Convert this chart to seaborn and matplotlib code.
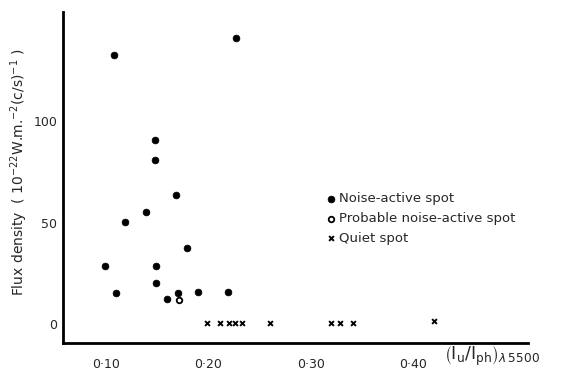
"""
Flux density vs umbra/photosphere intensity ratio
"""

import numpy as np
import pandas as pd
import matplotlib
matplotlib.use("Agg")
import matplotlib.pyplot as plt
import seaborn as sns

# 데이터
active_x = [0.108, 0.227, 0.148, 0.148, 0.168, 0.139, 0.119, 0.179,
            0.099, 0.149, 0.110, 0.149, 0.160, 0.170, 0.190, 0.219]
active_y = [133, 141, 90.7, 80.7, 63.9, 55.3, 50.1, 37.6,
            28.7, 28.7, 15.3, 20.4, 12.4, 15.2, 16.0, 15.7]
probable_x = [0.171]
probable_y = [12.0]
quiet_x = [0.199, 0.211, 0.220, 0.226, 0.233, 0.260, 0.320, 0.329, 0.341, 0.421]
quiet_y = [0.6, 0.6, 0.6, 0.6, 0.6, 0.6, 0.6, 0.6, 0.6, 1.6]

x_ticks = [0.10, 0.20, 0.30, 0.40]
x_tick_labels = ["0·10", "0·20", "0·30", "0·40"]
y_ticks = [0, 50, 100]

labels = ["Noise-active spot", "Probable noise-active spot", "Quiet spot"]

# 스타일 설정
sns.set_style("white")
plt.rcParams["font.family"] = ["DejaVu Sans"]

df = pd.concat([
    pd.DataFrame({"x": active_x, "y": active_y, "kind": labels[0]}),
    pd.DataFrame({"x": probable_x, "y": probable_y, "kind": labels[1]}),
    pd.DataFrame({"x": quiet_x, "y": quiet_y, "kind": labels[2]}),
])

fig = plt.figure(figsize=(5.63, 3.76), dpi=100)
ax = fig.add_axes([63 / 563, 1 - 343 / 376, 465 / 563, 331 / 376])

sns.scatterplot(data=df[df.kind == labels[0]], x="x", y="y", ax=ax,
                marker="o", color="black", s=24, edgecolor="black",
                linewidth=0.5, label=labels[0])
sns.scatterplot(data=df[df.kind == labels[1]], x="x", y="y", ax=ax,
                marker="o", facecolor="white", edgecolor="black",
                s=16, linewidth=1.3, label=labels[1])
sns.scatterplot(data=df[df.kind == labels[2]], x="x", y="y", ax=ax,
                marker="x", color="black", s=12, linewidth=1.4,
                label=labels[2])

ax.set_xlim(0.058, 0.5125)
ax.set_ylim(-9.4, 154)
ax.set_xticks(x_ticks)
ax.set_xticklabels(x_tick_labels)
ax.set_yticks(y_ticks)
ax.tick_params(axis="both", direction="out", length=3, width=1.5,
               labelsize=9, color="black")
ax.tick_params(axis="x", pad=8)
ax.tick_params(axis="y", pad=1)

for side in ["top", "right"]:
    ax.spines[side].set_visible(False)
for side in ["left", "bottom"]:
    ax.spines[side].set_color("black")
    ax.spines[side].set_linewidth(2)

ax.set_xlabel("")
ax.set_ylabel(r"Flux density  ( 10$^{-22}$W.m.$^{-2}$(c/s)$^{-1}$ )",
              fontsize=10)
ax.yaxis.set_label_coords(-0.07, 0.517)
fig.text(444 / 563, 1 - 356 / 376,
         r"$\left(\mathrm{I_u/I_{ph}}\right)_{\lambda\,5500}$",
         fontsize=12.5, ha="left", va="center")

ax.legend(loc="upper left", bbox_to_anchor=(0.548, 0.475), frameon=False,
          handletextpad=0.1, labelspacing=0.5, handlelength=1.0,
          borderpad=0, fontsize=9.5)

fig.savefig("out.png", dpi=100)
plt.close(fig)
